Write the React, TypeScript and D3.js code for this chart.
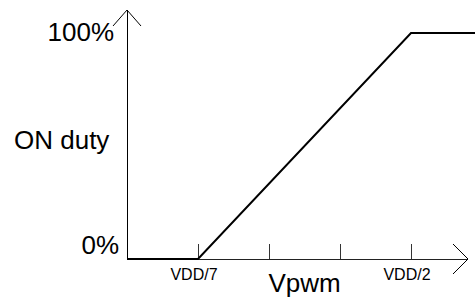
import React from 'react';
import * as d3 from 'd3';

// duty curve, x in tick units (origin = 0, VDD/7 = 1, VDD/2 = 4)
const curveX = [0, 1, 4, 5];
const curveDuty = [0, 0, 100, 100];

const tickPos = [1, 2, 3, 4];
const tickLabels = ['VDD/7', '', '', 'VDD/2'];

const yLabels = ['0%', '100%'];
const yLabelValues = [0, 100];

const xTitle = 'Vpwm';
const yTitle = 'ON duty';

const font = 'Liberation Sans, Arial, sans-serif';

export default function App() {
    const width = 475,
        height = 297;

    const xScale = d3.scaleLinear().domain([0, 4]).range([127, 411]);
    const yScale = d3.scaleLinear().domain([0, 100]).range([259, 33]);

    const x0 = xScale(0),
        y0 = yScale(0);

    const points: [number, number][] = curveX.map((x, i) => [x, curveDuty[i]]);
    const line = d3.line<[number, number]>()
        .x(d => xScale(d[0]))
        .y(d => yScale(d[1]));

    // axis arrows
    const yTip = 10,
        xTip = 468;

    return <div style={{ position: 'absolute', left: 0, top: 0 }}>
        <svg width={width} height={height} style={{ display: 'block', background: '#fff' }}>
            {/* y axis */}
            <line x1={x0} y1={y0} x2={x0} y2={yTip} stroke="#000" strokeWidth={1} shapeRendering="crispEdges" />
            <path d={`M${x0 - 14},${yTip + 16}L${x0},${yTip}L${x0 + 14},${yTip + 16}`} fill="none" stroke="#000" strokeWidth={1} />

            {/* x axis */}
            <line x1={x0} y1={y0} x2={xTip} y2={y0} stroke="#222" strokeWidth={1} shapeRendering="crispEdges" />
            <path d={`M${xTip - 15},${y0 - 15}L${xTip},${y0}L${xTip - 15},${y0 + 15}`} fill="none" stroke="#000" strokeWidth={1} />

            {tickPos.map((t, i) => (
                <g key={i}>
                    <line x1={xScale(t)} x2={xScale(t)} y1={y0 - 15} y2={y0} stroke="#333" strokeWidth={1} shapeRendering="crispEdges" />
                    {tickLabels[i] &&
                        <text x={xScale(t) - 4} y={y0 + 21} textAnchor="middle" fontFamily={font} fontSize={16} fill="#000">
                            {tickLabels[i]}
                        </text>}
                </g>
            ))}

            {/* curve */}
            <path d={line(points) || ''} fill="none" stroke="#000" strokeWidth={2} strokeLinejoin="miter" />

            {/* y labels */}
            <text x={x0 - 13} y={yScale(yLabelValues[1]) + 8} textAnchor="end" fontFamily={font} fontSize={26} fill="#000">{yLabels[1]}</text>
            <text x={x0 - 8} y={yScale(yLabelValues[0]) - 5} textAnchor="end" fontFamily={font} fontSize={26} fill="#000">{yLabels[0]}</text>
            <text x={14} y={149} fontFamily={font} fontSize={26} fill="#000">{yTitle}</text>

            <text x={xScale(2.5)} y={292} textAnchor="middle" fontFamily={font} fontSize={26} fill="#000">{xTitle}</text>
        </svg>
    </div>
}
